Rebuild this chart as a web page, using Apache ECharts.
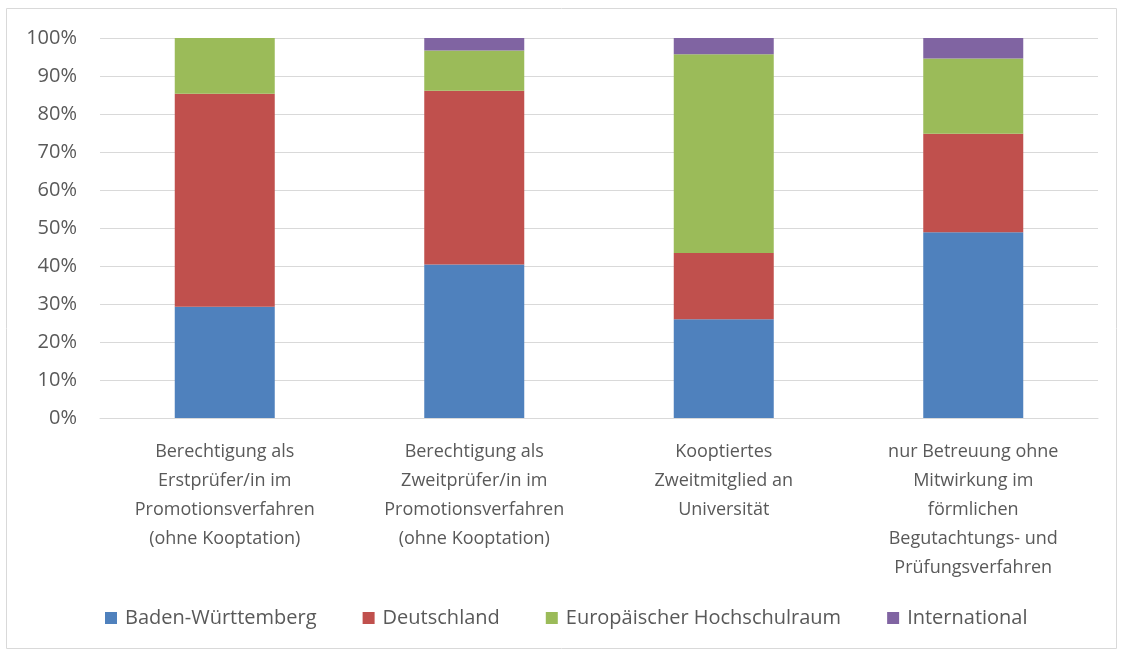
<!DOCTYPE html>
<html>
<head>
<meta charset="utf-8">
<script src="https://cdn.jsdelivr.net/npm/echarts@6/dist/echarts.min.js"></script>
<style>
  html, body { margin: 0; padding: 0; background: #fff; }
  #main { width: 1121px; height: 652px; }
</style>
</head>
<body>
<div id="main"></div>
<script>
// Kategorien (x-Achse)
var categories = [
    'Berechtigung als\nErstprüfer/in im\nPromotionsverfahren\n(ohne Kooptation)',
    'Berechtigung als\nZweitprüfer/in im\nPromotionsverfahren\n(ohne Kooptation)',
    'Kooptiertes\nZweitmitglied an\nUniversität',
    'nur Betreuung ohne\nMitwirkung im\nförmlichen\nBegutachtungs- und\nPrüfungsverfahren'
];
// Anteile in %
var badenWuerttemberg = [29.3, 40.4, 26.0, 48.9];
var deutschland = [56.0, 45.7, 17.4, 25.9];
var europa = [14.7, 10.6, 52.3, 19.8];
var international = [0, 3.3, 4.3, 5.4];

var seriesNames = ['Baden-Württemberg', 'Deutschland', 'Europäischer Hochschulraum', 'International'];
var colors = ['#4f81bd', '#c0504d', '#9bbb59', '#8064a2'];
var values = [badenWuerttemberg, deutschland, europa, international];

var myChart = echarts.init(document.getElementById('main'));

var series = [];
for (var i = 0; i < values.length; i++) {
    series.push({
        name: seriesNames[i],
        type: 'bar',
        stack: 'total',
        barWidth: 100,
        data: values[i],
        itemStyle: { color: colors[i] }
    });
}

myChart.setOption({
    textStyle: { fontFamily: 'Open Sans' },
    graphic: [{
        type: 'rect',
        shape: { x: 6.5, y: 8.5, width: 1110, height: 640 },
        style: { fill: 'none', stroke: '#d9d9d9', lineWidth: 1 },
        silent: true
    }],
    grid: { left: 100, right: 23, top: 38, height: 380 },
    legend: {
        bottom: 19,
        left: 100,
        itemWidth: 12,
        itemHeight: 12,
        itemGap: 46,
        icon: 'rect',
        textStyle: { color: '#595959', fontSize: 20, fontFamily: 'Open Sans', padding: [0, 0, 0, 3] },
        data: seriesNames
    },
    xAxis: {
        type: 'category',
        data: categories,
        axisTick: { show: false },
        axisLine: { lineStyle: { color: '#d9d9d9' } },
        axisLabel: {
            color: '#595959',
            fontSize: 18,
            lineHeight: 29,
            margin: 19,
            interval: 0
        }
    },
    yAxis: {
        type: 'value',
        min: 0,
        max: 100,
        interval: 10,
        axisLine: { show: false },
        axisTick: { show: false },
        splitLine: { lineStyle: { color: '#d9d9d9' } },
        axisLabel: {
            color: '#595959',
            fontSize: 20,
            margin: 23,
            formatter: '{value}%'
        }
    },
    series: series
});
</script>
</body>
</html>
